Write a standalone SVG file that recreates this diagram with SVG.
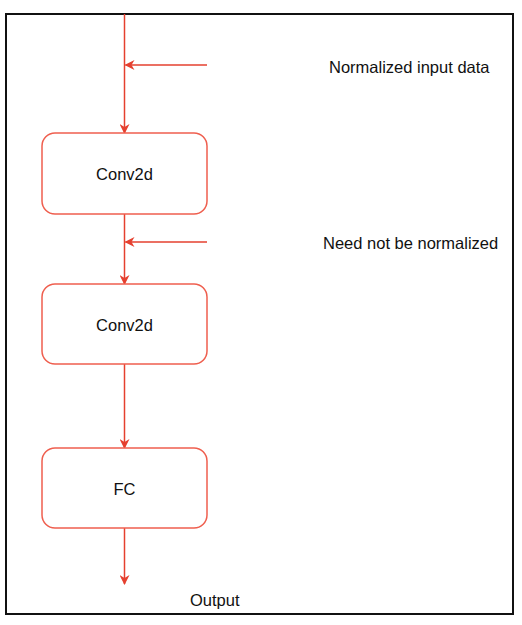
<svg xmlns="http://www.w3.org/2000/svg" width="522" height="625" viewBox="0 0 522 625">
<defs>
<marker id="ah" viewBox="0 0 10 10" refX="9" refY="5" markerWidth="10" markerHeight="10" markerUnits="userSpaceOnUse" orient="auto">
<path d="M0,0 L10,5 L0,10 L3,5 Z" fill="#e5402f"/>
</marker>
<style>
.box{fill:#fff;stroke:#ef5f4f;stroke-width:1.5}
.ln{stroke:#e5402f;stroke-width:1.5;fill:none;marker-end:url(#ah)}
.t{font-family:"Liberation Sans",Arial,sans-serif;font-size:16.5px;fill:#111}
.c{text-anchor:middle}
</style>
</defs>
<rect x="0" y="0" width="522" height="625" fill="#fff"/>
<rect id="frame" x="6" y="14" width="507" height="600" fill="#fff" stroke="#111" stroke-width="2"/>
<g id="connectors">
<line class="ln" x1="124.5" y1="14" x2="124.5" y2="133"/>
<line class="ln" x1="207" y1="65" x2="125.5" y2="65"/>
<line class="ln" x1="124.5" y1="214" x2="124.5" y2="284"/>
<line class="ln" x1="207" y1="242" x2="125.5" y2="242"/>
<line class="ln" x1="124.5" y1="364" x2="124.5" y2="448"/>
<line class="ln" x1="124.5" y1="528" x2="124.5" y2="584"/>
</g>
<g id="conv1">
<rect class="box" x="42" y="133" width="165" height="81" rx="13"/>
<text class="t c" x="124.5" y="180">Conv2d</text>
</g>
<g id="conv2">
<rect class="box" x="42" y="284" width="165" height="80" rx="13"/>
<text class="t c" x="124.5" y="331">Conv2d</text>
</g>
<g id="fc">
<rect class="box" x="42" y="448" width="165" height="80" rx="13"/>
<text class="t c" x="124.5" y="495">FC</text>
</g>
<g id="labels">
<text class="t" x="329" y="73">Normalized input data</text>
<text class="t" x="323" y="249">Need not be normalized</text>
<text class="t" x="190" y="606">Output</text>
</g>
</svg>
